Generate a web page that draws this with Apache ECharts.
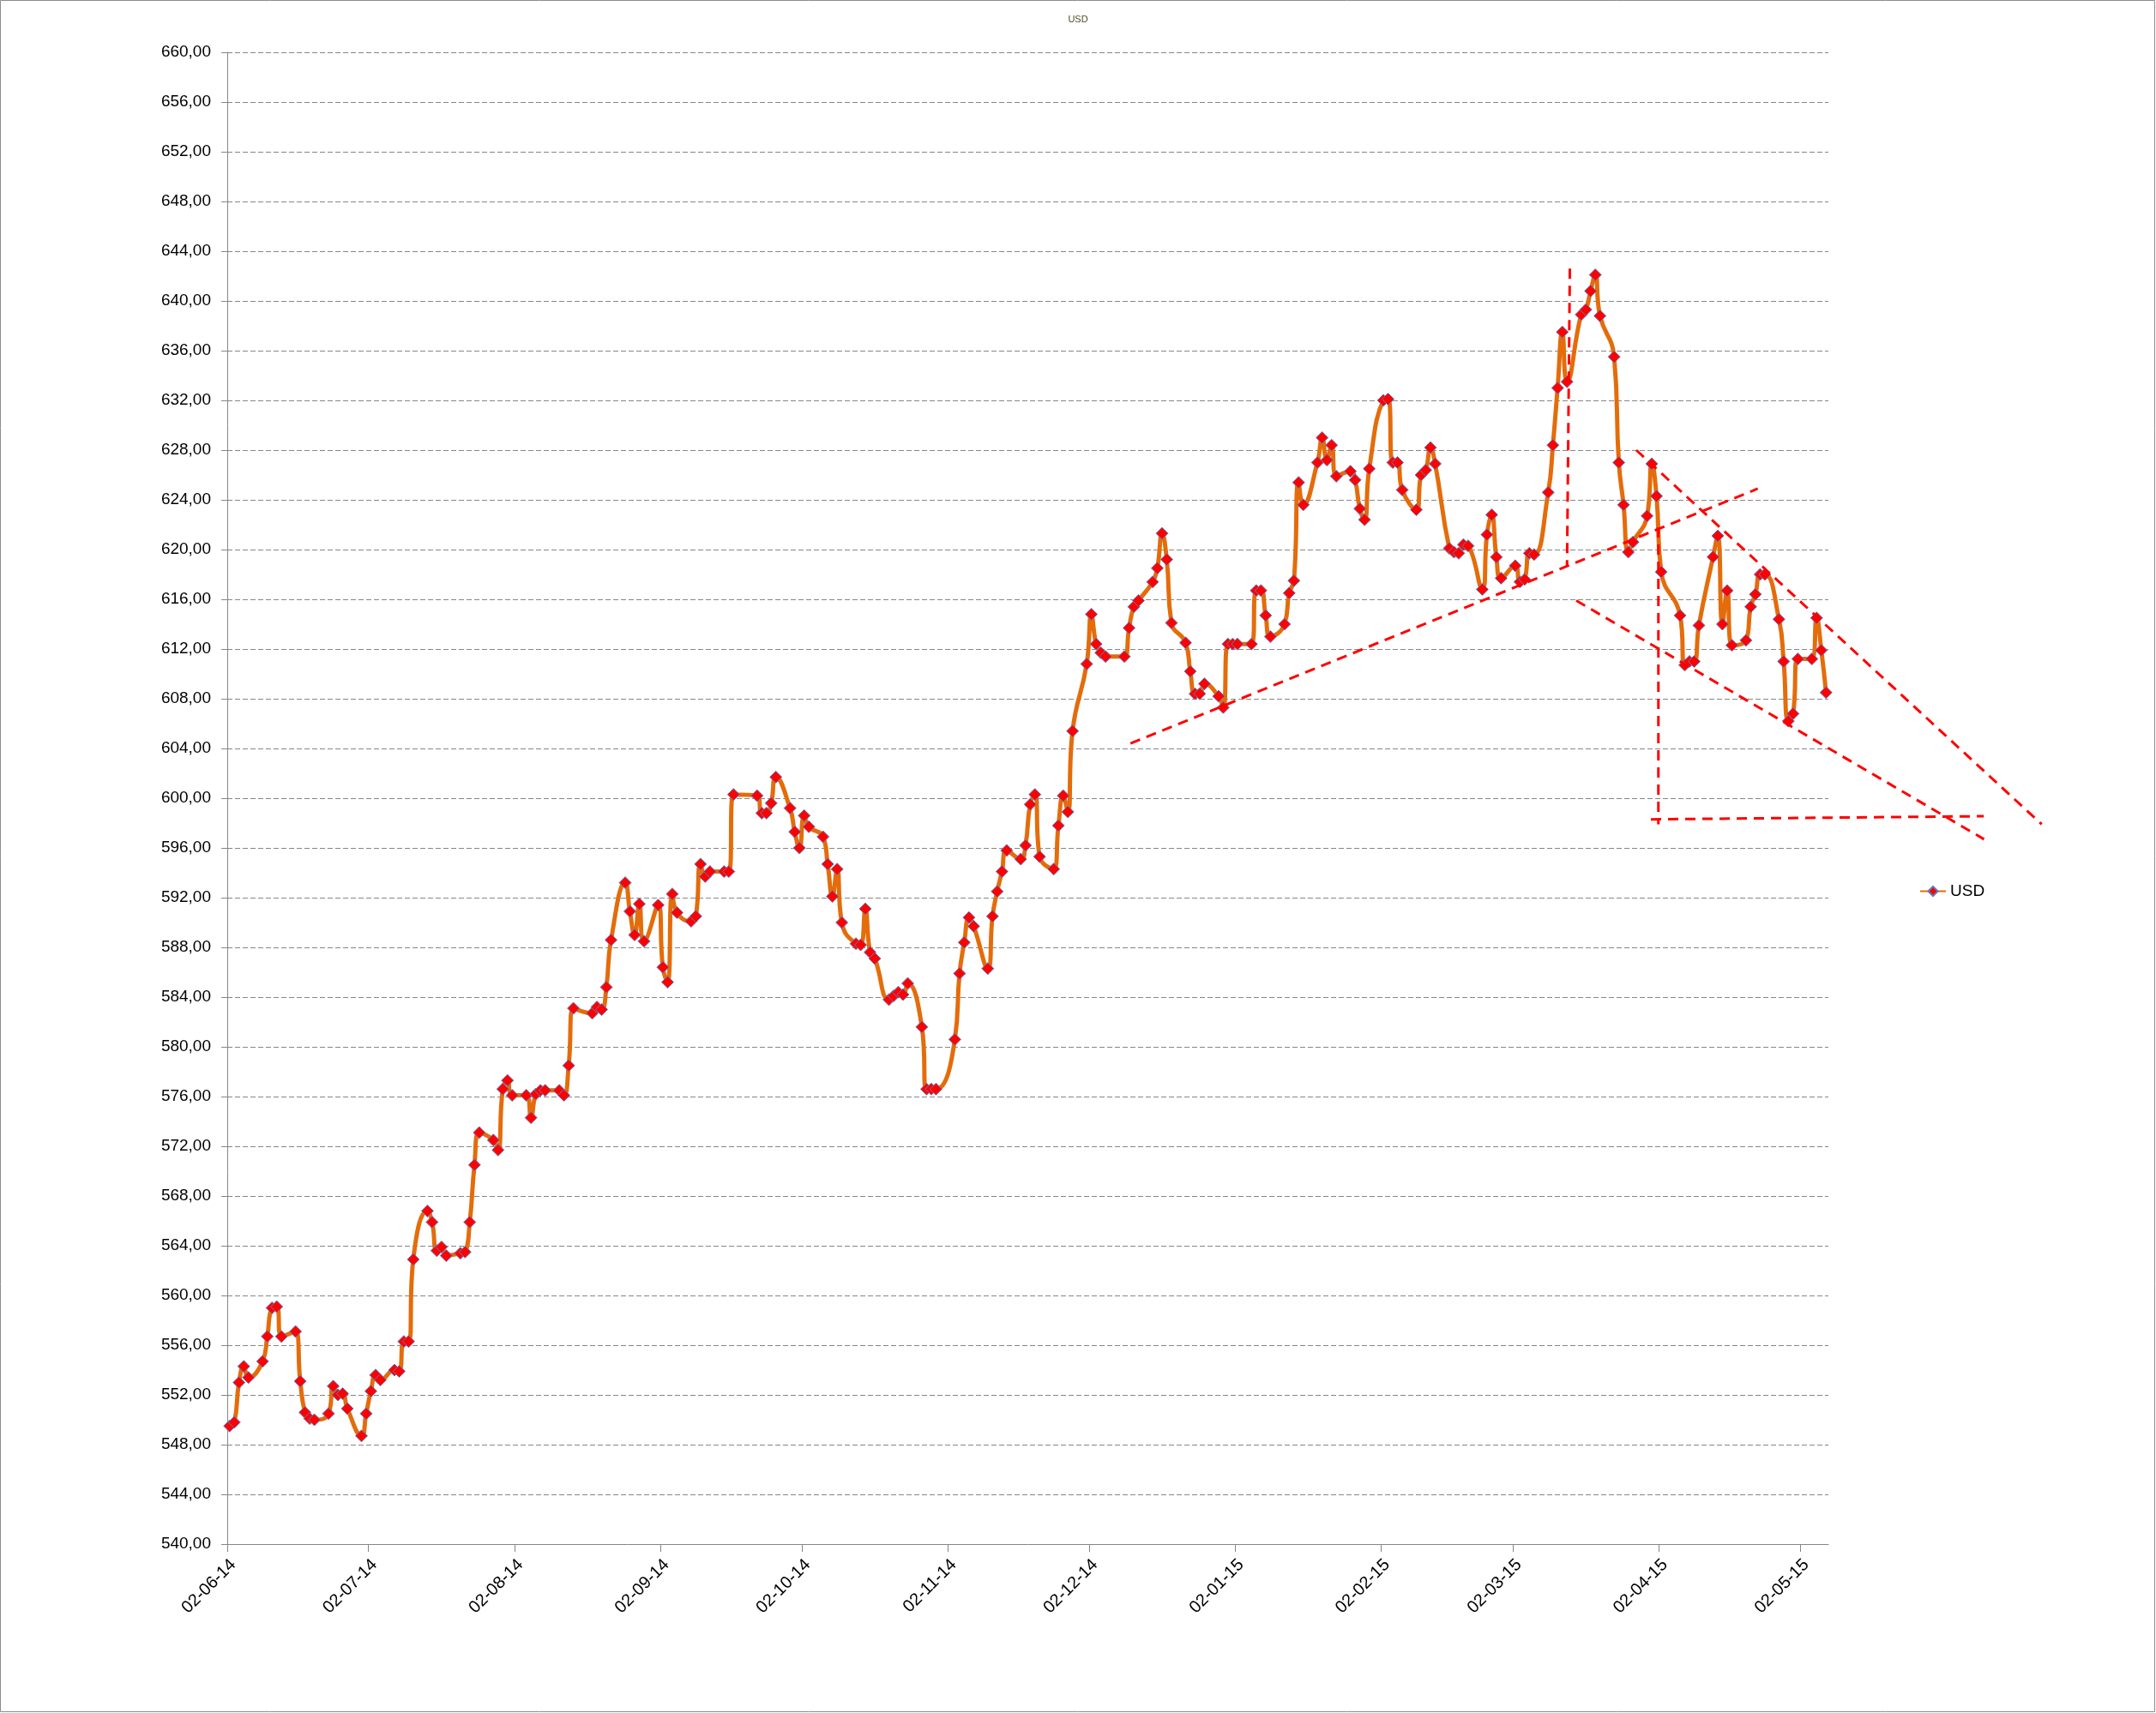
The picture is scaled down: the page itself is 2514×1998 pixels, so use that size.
<!DOCTYPE html>
<html><head><meta charset="utf-8">
<script src="https://cdn.jsdelivr.net/npm/echarts@6/dist/echarts.min.js"></script>
<style>html,body{margin:0;padding:0;background:#fff}#c{width:2514px;height:1998px}</style>
</head><body><div id="c"></div>
<script>
const dates = [
'2014-06-02','2014-06-03','2014-06-04','2014-06-05','2014-06-06',
'2014-06-09','2014-06-10','2014-06-11','2014-06-12','2014-06-13',
'2014-06-16','2014-06-17','2014-06-18','2014-06-19','2014-06-20',
'2014-06-23','2014-06-24','2014-06-25','2014-06-26','2014-06-27',
'2014-06-30','2014-07-01','2014-07-02','2014-07-03','2014-07-04',
'2014-07-07','2014-07-08','2014-07-09','2014-07-10','2014-07-11',
'2014-07-14','2014-07-15','2014-07-16','2014-07-17','2014-07-18',
'2014-07-21','2014-07-22','2014-07-23','2014-07-24','2014-07-25',
'2014-07-28','2014-07-29','2014-07-30','2014-07-31','2014-08-01',
'2014-08-04','2014-08-05','2014-08-06','2014-08-07','2014-08-08',
'2014-08-11','2014-08-12','2014-08-13','2014-08-14',
'2014-08-18','2014-08-19','2014-08-20','2014-08-21','2014-08-22',
'2014-08-25','2014-08-26','2014-08-27','2014-08-28','2014-08-29',
'2014-09-01','2014-09-02','2014-09-03','2014-09-04','2014-09-05',
'2014-09-08','2014-09-09','2014-09-10','2014-09-11','2014-09-12',
'2014-09-15','2014-09-16','2014-09-17',
'2014-09-22','2014-09-23','2014-09-24','2014-09-25','2014-09-26',
'2014-09-29','2014-09-30','2014-10-01','2014-10-02','2014-10-03',
'2014-10-06','2014-10-07','2014-10-08','2014-10-09','2014-10-10',
'2014-10-13','2014-10-14','2014-10-15','2014-10-16','2014-10-17',
'2014-10-20','2014-10-21','2014-10-22','2014-10-23','2014-10-24',
'2014-10-27','2014-10-28','2014-10-29','2014-10-30',
'2014-11-03','2014-11-04','2014-11-05','2014-11-06','2014-11-07',
'2014-11-10','2014-11-11','2014-11-12','2014-11-13','2014-11-14',
'2014-11-17','2014-11-18','2014-11-19','2014-11-20','2014-11-21',
'2014-11-24','2014-11-25','2014-11-26','2014-11-27','2014-11-28',
'2014-12-01','2014-12-02','2014-12-03','2014-12-04','2014-12-05',
'2014-12-09','2014-12-10','2014-12-11','2014-12-12',
'2014-12-15','2014-12-16','2014-12-17','2014-12-18','2014-12-19',
'2014-12-22','2014-12-23','2014-12-24','2014-12-25','2014-12-26',
'2014-12-29','2014-12-30','2014-12-31','2015-01-01','2015-01-02',
'2015-01-05','2015-01-06','2015-01-07','2015-01-08','2015-01-09',
'2015-01-12','2015-01-13','2015-01-14','2015-01-15','2015-01-16',
'2015-01-19','2015-01-20','2015-01-21','2015-01-22','2015-01-23',
'2015-01-26','2015-01-27','2015-01-28','2015-01-29','2015-01-30',
'2015-02-02','2015-02-03','2015-02-04','2015-02-05','2015-02-06',
'2015-02-09','2015-02-10','2015-02-11','2015-02-12','2015-02-13',
'2015-02-16','2015-02-17','2015-02-18','2015-02-19','2015-02-20',
'2015-02-23','2015-02-24','2015-02-25','2015-02-26','2015-02-27',
'2015-03-02','2015-03-03','2015-03-04','2015-03-05','2015-03-06',
'2015-03-09','2015-03-10','2015-03-11','2015-03-12','2015-03-13',
'2015-03-16','2015-03-17','2015-03-18','2015-03-19','2015-03-20',
'2015-03-23','2015-03-24','2015-03-25','2015-03-26','2015-03-27',
'2015-03-30','2015-03-31','2015-04-01','2015-04-02',
'2015-04-06','2015-04-07','2015-04-08','2015-04-09','2015-04-10',
'2015-04-13','2015-04-14','2015-04-15','2015-04-16','2015-04-17',
'2015-04-20','2015-04-21','2015-04-22','2015-04-23','2015-04-24',
'2015-04-27','2015-04-28','2015-04-29','2015-04-30','2015-05-01',
'2015-05-04','2015-05-05','2015-05-06','2015-05-07'
];

const usd = [
549.5,549.8,553.0,554.3,553.4,
554.7,556.7,559.0,559.1,556.7,
557.1,553.1,550.6,550.1,550.0,
550.5,552.7,552.0,552.1,550.9,
548.7,550.5,552.3,553.6,553.2,
554.0,553.9,556.3,556.3,562.9,
566.8,565.9,563.6,563.9,563.2,
563.4,563.5,565.9,570.5,573.1,
572.5,571.7,576.6,577.3,576.1,
576.1,574.3,576.2,576.5,576.5,
576.5,576.1,578.5,583.1,
582.7,583.2,583.0,584.8,588.6,
593.2,590.9,589.0,591.5,588.5,
591.4,586.4,585.2,592.3,590.8,
590.1,590.5,594.7,593.7,594.1,
594.1,594.1,600.3,
600.2,598.8,598.8,599.6,601.7,
599.2,597.3,596.0,598.6,597.7,
596.9,594.7,592.1,594.3,590.0,
588.3,588.2,591.1,587.6,587.1,
583.8,584.1,584.4,584.2,585.1,
581.6,576.6,576.6,576.6,
580.6,585.9,588.4,590.4,589.7,
586.3,590.5,592.5,594.1,595.8,
595.1,596.2,599.5,600.3,595.3,
594.3,597.8,600.2,598.9,605.4,
610.8,614.8,612.4,611.7,611.4,
611.4,613.7,615.4,615.9,
617.4,618.5,621.3,619.2,614.1,
612.5,610.2,608.4,608.4,609.2,
608.2,607.3,612.4,612.4,612.4,
612.4,616.7,616.7,614.7,613.0,
614.0,616.5,617.5,625.4,623.6,
627.0,629.0,627.2,628.4,625.9,
626.3,625.6,623.3,622.4,626.5,
632.0,632.1,627.0,627.0,624.8,
623.2,626.0,626.4,628.2,626.9,
620.1,619.8,619.7,620.4,620.3,
616.8,621.2,622.8,619.4,617.7,
618.7,617.4,617.6,619.7,619.6,
624.6,628.4,633.0,637.5,633.5,
638.9,639.3,640.8,642.1,638.8,
635.5,627.0,623.6,619.8,620.6,
622.7,626.9,624.3,618.2,
614.7,610.7,611.0,611.0,613.9,
619.4,621.1,614.0,616.7,612.3,
612.7,615.4,616.4,618.0,618.0,
614.4,611.0,606.2,606.8,611.2,
611.2,614.5,611.9,608.5
];

// x-axis tick labels (dd-mm-yy on the 2nd of every month)
const xTickDates = ['2014-06-02','2014-07-02','2014-08-02','2014-09-02','2014-10-02','2014-11-02',
  '2014-12-02','2015-01-02','2015-02-02','2015-03-02','2015-04-02','2015-05-02'];
const xStart = '2014-06-02';
const xEnd = '2015-05-08';

// hand-drawn dashed annotation lines: [date-time, value] endpoints
const annRise     = [['2014-12-10T19:12', 604.4], ['2015-04-23T00:00', 624.9]];
const annVert1    = [['2015-03-14T02:24', 642.6], ['2015-03-13T12:00', 618.7]];
const annVert2    = [['2015-04-01T21:36', 621.8], ['2015-04-01T21:36', 597.9]];
const annFloor    = [['2015-03-31T07:12', 598.3], ['2015-06-10T00:00', 598.55]];
const annUpperDn  = [['2015-03-28T04:48', 628.0], ['2015-06-22T07:12', 597.9]];
const annLowerDn  = [['2015-03-15T10:48', 615.9], ['2015-06-10T01:12', 596.7]];
const annotations = [annRise, annVert1, annVert2, annFloor, annUpperDn, annLowerDn];

function dayTime(s, hour) {
  const p = s.split('-').map(Number);
  return new Date(p[0], p[1] - 1, p[2], hour || 0).getTime();
}
function pad(n) { return (n < 10 ? '0' : '') + n; }

const FONT = "'Liberation Sans', Arial, sans-serif";
const tickTimes = xTickDates.map(d => dayTime(d, 0));
const mainData = dates.map((d, i) => [dayTime(d, 12), usd[i]]);

const borderRect = {
  type: 'rect', silent: true, z: 100,
  shape: { x: 0.5, y: 0.5, width: 2512, height: 1996 },
  style: { fill: 'none', stroke: '#8c8c8c', lineWidth: 1 }
};

const chart = echarts.init(document.getElementById('c'), null, { width: 2514, height: 1998 });
chart.setOption({
  animation: false,
  backgroundColor: '#ffffff',
  title: {
    text: 'USD', left: 'center', top: 12,
    textStyle: { fontSize: 11, fontWeight: 'normal', color: '#4d4d26', fontFamily: FONT }
  },
  legend: {
    data: ['USD'], left: 2238, top: 1030, padding: 0,
    itemWidth: 30, itemHeight: 14, itemGap: 4,
    textStyle: { fontSize: 19, color: '#000', fontFamily: FONT }
  },
  graphic: [borderRect],
  grid: { left: 265, top: 61, width: 1867, height: 1740, containLabel: false },
  xAxis: {
    type: 'value',
    min: dayTime(xStart, 0), max: dayTime(xEnd, 0),
    axisLine: { show: true, onZero: false, lineStyle: { color: '#868686', width: 1 } },
    axisTick: { show: true, customValues: tickTimes, length: 9, lineStyle: { color: '#868686' } },
    axisLabel: {
      customValues: tickTimes, rotate: 45, margin: 14,
      align: 'right', verticalAlign: 'top',
      fontSize: 20, color: '#000', fontFamily: FONT,
      formatter: v => { const d = new Date(v); return pad(d.getDate()) + '-' + pad(d.getMonth() + 1) + '-' + pad(d.getFullYear() % 100); }
    },
    splitLine: { show: false }
  },
  yAxis: {
    type: 'value', min: 540, max: 660, interval: 4,
    axisLine: { show: true, lineStyle: { color: '#868686', width: 1 } },
    axisTick: { show: true, length: 7, lineStyle: { color: '#868686' } },
    axisLabel: {
      margin: 19, fontSize: 19, color: '#000', fontFamily: FONT,
      formatter: v => v.toFixed(2).replace('.', ',')
    },
    splitLine: { show: true, lineStyle: { color: '#868686', width: 1, type: [6, 3] } }
  },
  series: [
    {
      name: 'USD', type: 'line', data: mainData, z: 3,
      smooth: 0.5, showAllSymbol: true,
      symbol: 'diamond', symbolSize: 14,
      lineStyle: { color: '#E46C0A', width: 5 },
      itemStyle: { color: '#FF0000', borderColor: '#5B7FBF', borderWidth: 1 }
    }
  ]
});

// dashed annotation lines, placed through the chart's own axes (may run past the plot edge)
const annGraphics = annotations.map(pts => {
  const a = chart.convertToPixel({ gridIndex: 0 }, [new Date(pts[0][0]).getTime(), pts[0][1]]);
  const b = chart.convertToPixel({ gridIndex: 0 }, [new Date(pts[1][0]).getTime(), pts[1][1]]);
  return {
    type: 'line', silent: true, z: 50,
    shape: { x1: a[0], y1: a[1], x2: b[0], y2: b[1] },
    style: { stroke: '#FF0000', lineWidth: 3, lineDash: [12, 8] }
  };
});
chart.setOption({ graphic: [borderRect].concat(annGraphics) });
</script>
</body></html>
